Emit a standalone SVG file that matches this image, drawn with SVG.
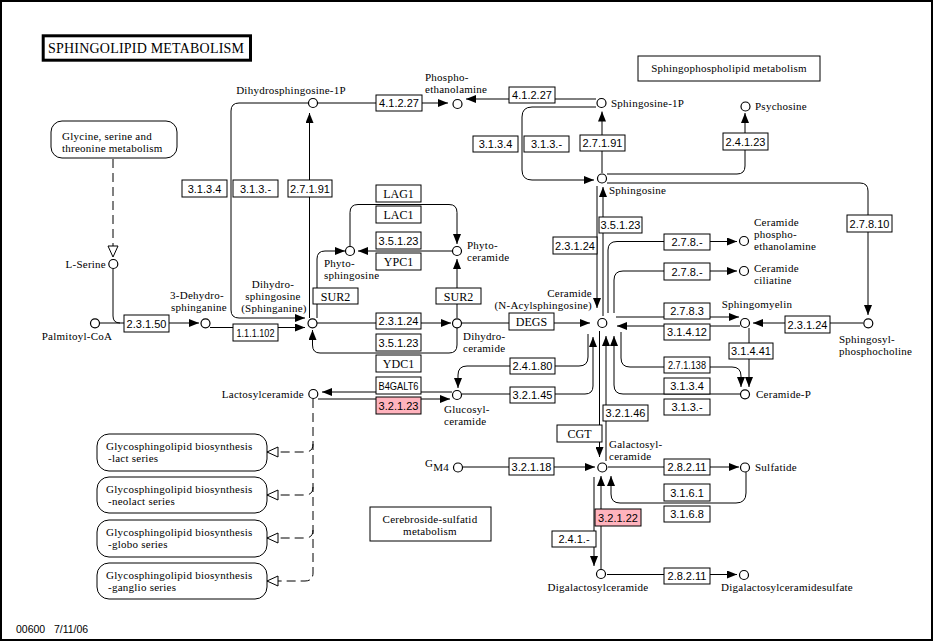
<svg xmlns="http://www.w3.org/2000/svg" width="934" height="642" viewBox="0 0 934 642">
<style>
.c{fill:#fff;stroke:#000;stroke-width:1.2}
.e rect{fill:#fff;stroke:#000;stroke-width:1}
.e.pk rect{fill:#ffb3bd}
.e text{font-family:"Liberation Sans",Arial,sans-serif;font-size:11px;text-anchor:middle}
.e.g text{font-family:"Liberation Serif","Times New Roman",serif;font-size:12px}
.t{font-family:"Liberation Serif","Times New Roman",serif;font-size:11px;letter-spacing:0.25px}
.m{text-anchor:middle}
.r{text-anchor:end}
.ln{fill:none;stroke:#000;stroke-width:1}
.a{marker-end:url(#ah)}
.d{fill:none;stroke:#000;stroke-width:1;stroke-dasharray:9,5;marker-end:url(#oh)}
.map rect{fill:#fff;stroke:#000;stroke-width:1}
</style>
<defs>
<marker id="ah" markerUnits="userSpaceOnUse" markerWidth="10" markerHeight="8" viewBox="0 0 10 8" refX="10" refY="4" orient="auto"><path d="M0,0 L10,4 L0,8 Z" fill="#000"/></marker>
<marker id="oh" markerUnits="userSpaceOnUse" markerWidth="13" markerHeight="12" viewBox="-1 -1 13 12" refX="11" refY="5" orient="auto"><path d="M0,0 L11,5 L0,10 Z" fill="#fff" stroke="#000" stroke-width="1"/></marker>
</defs>
<rect x="1" y="1" width="931" height="639" fill="#fff" stroke="#000" stroke-width="2"/>
<g id="title"><rect x="43.2" y="35.8" width="207.3" height="24.4" fill="#fff" stroke="#000" stroke-width="3"/><text x="48" y="53" font-family="'Liberation Serif','Times New Roman',serif" font-size="14" textLength="196" lengthAdjust="spacing">SPHINGOLIPID METABOLISM</text></g>

<g id="connectors">
<path class="ln a" d="M317,103 L448,103"/>
<path class="ln a" d="M596,99 L466,99"/>
<path class="ln a" d="M308,103 L239,103 Q231,103 231,111 L231,310 Q231,318 239,318 L305,318"/>
<path class="ln a" d="M309.5,318 L309.5,113"/>
<path class="d" d="M113,159 L113,257"/>
<path class="ln" d="M113,269 L113,316 Q113,323 120,323"/>
<path class="ln a" d="M100,323 L199,323"/>
<path class="ln a" d="M210,327.5 L305,327.5"/>
<path class="ln a" d="M317,323 L451,323"/>
<path class="ln a" d="M457,328 L457,345 Q457,353 449,353 L320,353 Q312.5,353 312.5,345 L312.5,330"/>
<path class="ln a" d="M457,318 L457,259"/>
<path class="ln a" d="M317,318 L317,259 Q317,251 325,251 L345,251"/>
<path class="ln a" d="M452,251 L358,251"/>
<path class="ln a" d="M350,246 L350,212.5 Q350,204.5 358,204.5 L449,204.5 Q457,204.5 457,212.5 L457,244"/>
<path class="ln a" d="M462,323 L590,323"/>
<path class="ln a" d="M597,186 L597,308"/>
<path class="ln a" d="M603,316 L603,187"/>
<path class="ln a" d="M602,173 L602,111.5"/>
<path class="ln a" d="M596,107 L532,107 Q522,107 522,117 L522,170 Q522,180 532,180 L594,180"/>
<path class="ln a" d="M607,174 L737,174 Q745,174 745,166 L745,113"/>
<path class="ln a" d="M607,183 L860,183 Q868,183 868,191 L868,315"/>
<path class="ln a" d="M608,313 L608,250 Q608,241.5 617,241.5 L737,241.5"/>
<path class="ln a" d="M614,313 L614,280 Q614,271 623,271 L737,271"/>
<path class="ln a" d="M616,317 L739,317"/>
<path class="ln a" d="M740,326 L617,326"/>
<path class="ln a" d="M863,323 L753,323"/>
<path class="ln a" d="M749,328 L749,387"/>
<path class="ln a" d="M621,332 L621,358 Q621,367 630,367 L732,367 Q741,367 741,376 L741,387"/>
<path class="ln a" d="M740,394 L623,394 Q614,394 614,385 L614,336"/>
<path class="ln a" d="M606,461 L606,336"/>
<path class="ln a" d="M462,394 L585,394 Q593,394 593,386 L593,337"/>
<path class="ln a" d="M588,334 L588,357 Q588,366 579,366 L467,366 Q458,366 458,375 L458,388"/>
<path class="ln a" d="M599.5,331 L599.5,457"/>
<path class="ln a" d="M463,467 L595,467"/>
<path class="ln a" d="M608,467 L739,467"/>
<path class="ln a" d="M746,472 L746,493 Q746,503 736,503 L620,503 Q611,503 611,494 L611,476"/>
<path class="ln a" d="M594,477 L594,566"/>
<path class="ln a" d="M601,569 L601,476"/>
<path class="ln a" d="M607,574.5 L737,574.5"/>
<path class="ln a" d="M452,392 L322,392"/>
<path class="ln a" d="M318,399 L450,399"/>
<path class="d" d="M313,399 L313,573 Q313,581 305,581 L267,581"/>
<path class="d" d="M313,444 Q313,452 305,452 L267,452"/>
<path class="d" d="M313,487 Q313,495 305,495 L267,495"/>
<path class="d" d="M313,530 Q313,538 305,538 L267,538"/>
</g>

<g id="maps" class="map">
<g id="map_gly"><rect x="51" y="121" width="126" height="37" rx="11"/><text class="t" x="62" y="140">Glycine, serine and</text><text class="t" x="62" y="152">threonine metabolism</text></g>
<g id="map_sphp"><rect x="638" y="56" width="182" height="25"/><text class="t m" x="729" y="72">Sphingophospholipid metabolism</text></g>
<g id="map_lact"><rect x="97" y="434" width="170" height="37" rx="12"/><text class="t" x="106" y="450">Glycosphingolipid biosynthesis</text><text class="t" x="108" y="462"> -lact series</text></g>
<g id="map_neolact"><rect x="97" y="477" width="170" height="36" rx="12"/><text class="t" x="106" y="493">Glycosphingolipid biosynthesis</text><text class="t" x="108" y="505"> -neolact series</text></g>
<g id="map_globo"><rect x="97" y="520" width="170" height="37" rx="12"/><text class="t" x="106" y="536">Glycosphingolipid biosynthesis</text><text class="t" x="108" y="548"> -globo series</text></g>
<g id="map_ganglio"><rect x="97" y="563" width="170" height="36" rx="12"/><text class="t" x="106" y="579">Glycosphingolipid biosynthesis</text><text class="t" x="108" y="591"> -ganglio series</text></g>
<g id="map_cer"><rect x="370" y="507" width="121" height="34"/><text class="t m" x="430" y="523">Cerebroside-sulfatid</text><text class="t m" x="430" y="535">metabolism</text></g>
</g>

<g id="enzymes">
<g class="e" id="e1"><rect x="376" y="95" width="46" height="16"/><text x="399" y="107">4.1.2.27</text></g>
<g class="e" id="e2"><rect x="509" y="87" width="46" height="16"/><text x="532" y="99">4.1.2.27</text></g>
<g class="e" id="e3"><rect x="182" y="180" width="45" height="17"/><text x="204.5" y="192.5">3.1.3.4</text></g>
<g class="e" id="e4"><rect x="233" y="180" width="45" height="17"/><text x="255.5" y="192.5">3.1.3.-</text></g>
<g class="e" id="e5"><rect x="288" y="180" width="44" height="17"/><text x="310" y="192.5">2.7.1.91</text></g>
<g class="e" id="e6"><rect x="473" y="136" width="45" height="16"/><text x="495.5" y="148">3.1.3.4</text></g>
<g class="e" id="e7"><rect x="524" y="136" width="45" height="16"/><text x="546.5" y="148">3.1.3.-</text></g>
<g class="e" id="e8"><rect x="580" y="135" width="45" height="16"/><text x="602.5" y="147">2.7.1.91</text></g>
<g class="e" id="e9"><rect x="723" y="133" width="45" height="17"/><text x="745.5" y="145.5">2.4.1.23</text></g>
<g class="e" id="e10"><rect x="847" y="215" width="45" height="17"/><text x="869.5" y="227.5">2.7.8.10</text></g>
<g class="e g" id="e11"><rect x="376" y="185" width="45" height="17"/><text x="398.5" y="197.5">LAG1</text></g>
<g class="e g" id="e12"><rect x="376" y="206" width="45" height="17"/><text x="398.5" y="218.5">LAC1</text></g>
<g class="e" id="e13"><rect x="376" y="232" width="45" height="17"/><text x="398.5" y="244.5">3.5.1.23</text></g>
<g class="e g" id="e14"><rect x="376" y="253" width="45" height="17"/><text x="398.5" y="265.5">YPC1</text></g>
<g class="e g" id="e15"><rect x="313" y="288" width="45" height="16"/><text x="335.5" y="300.5">SUR2</text></g>
<g class="e g" id="e16"><rect x="436" y="288" width="45" height="16"/><text x="458.5" y="300.5">SUR2</text></g>
<g class="e" id="e17"><rect x="376" y="313" width="45" height="16"/><text x="398.5" y="325">2.3.1.24</text></g>
<g class="e" id="e18"><rect x="376" y="334" width="45" height="17"/><text x="398.5" y="346.5">3.5.1.23</text></g>
<g class="e g" id="e19"><rect x="376" y="355" width="45" height="17"/><text x="398.5" y="367.5">YDC1</text></g>
<g class="e" id="e20"><rect x="376" y="377" width="45" height="17"/><text x="398.5" y="389.5" textLength="40" lengthAdjust="spacingAndGlyphs">B4GALT6</text></g>
<g class="e pk" id="e21"><rect x="376" y="397" width="45" height="17"/><text x="398.5" y="409.5">3.2.1.23</text></g>
<g class="e" id="e22"><rect x="124" y="315" width="45" height="17"/><text x="146.5" y="327.5">2.3.1.50</text></g>
<g class="e" id="e23"><rect x="233" y="324" width="45" height="17"/><text x="255.5" y="336.5" textLength="38" lengthAdjust="spacingAndGlyphs">1.1.1.102</text></g>
<g class="e g" id="e24"><rect x="509" y="313" width="45" height="17"/><text x="531.5" y="325.5">DEGS</text></g>
<g class="e" id="e25"><rect x="510" y="358" width="45" height="16"/><text x="532.5" y="370">2.4.1.80</text></g>
<g class="e" id="e26"><rect x="510" y="387" width="45" height="16"/><text x="532.5" y="399">3.2.1.45</text></g>
<g class="e" id="e27"><rect x="553" y="237" width="44" height="17"/><text x="575" y="249.5">2.3.1.24</text></g>
<g class="e" id="e28"><rect x="599" y="217" width="43" height="16"/><text x="620.5" y="229">3.5.1.23</text></g>
<g class="e" id="e29"><rect x="664" y="234" width="46" height="16"/><text x="687" y="246">2.7.8.-</text></g>
<g class="e" id="e30"><rect x="664" y="263" width="46" height="17"/><text x="687" y="275.5">2.7.8.-</text></g>
<g class="e" id="e31"><rect x="664" y="303" width="46" height="16"/><text x="687" y="315">2.7.8.3</text></g>
<g class="e" id="e32"><rect x="664" y="324" width="46" height="16"/><text x="687" y="336">3.1.4.12</text></g>
<g class="e" id="e33"><rect x="785" y="316" width="45" height="17"/><text x="807.5" y="328.5">2.3.1.24</text></g>
<g class="e" id="e34"><rect x="729" y="343" width="44" height="16"/><text x="751" y="355">3.1.4.41</text></g>
<g class="e" id="e35"><rect x="664" y="357" width="46" height="16"/><text x="687" y="369" textLength="38" lengthAdjust="spacingAndGlyphs">2.7.1.138</text></g>
<g class="e" id="e36"><rect x="664" y="378" width="46" height="16"/><text x="687" y="390">3.1.3.4</text></g>
<g class="e" id="e37"><rect x="664" y="399" width="46" height="16"/><text x="687" y="411">3.1.3.-</text></g>
<g class="e" id="e38"><rect x="603" y="405" width="45" height="16"/><text x="625.5" y="417">3.2.1.46</text></g>
<g class="e g" id="e39"><rect x="557" y="425" width="45" height="17"/><text x="579.5" y="437.5">CGT</text></g>
<g class="e" id="e40"><rect x="509" y="458" width="45" height="17"/><text x="531.5" y="470.5">3.2.1.18</text></g>
<g class="e" id="e41"><rect x="664" y="459" width="46" height="16"/><text x="687" y="471">2.8.2.11</text></g>
<g class="e" id="e42"><rect x="664" y="484" width="46" height="17"/><text x="687" y="496.5">3.1.6.1</text></g>
<g class="e" id="e43"><rect x="664" y="506" width="46" height="16"/><text x="687" y="518">3.1.6.8</text></g>
<g class="e pk" id="e44"><rect x="595" y="509" width="46" height="17"/><text x="618" y="521.5">3.2.1.22</text></g>
<g class="e" id="e45"><rect x="552" y="531" width="44" height="16"/><text x="574" y="543">2.4.1.-</text></g>
<g class="e" id="e46"><rect x="664" y="568" width="46" height="16"/><text x="687" y="580">2.8.2.11</text></g>
</g>

<g id="compounds">
<g id="c_dhs1p"><circle class="c" cx="313" cy="103" r="4.5"/><text class="t m" x="291" y="94">Dihydrosphingosine-1P</text></g>
<g id="c_pe"><circle class="c" cx="457.5" cy="104" r="4.5"/><text class="t" x="425" y="81">Phospho-</text><text class="t" x="425" y="93">ethanolamine</text></g>
<g id="c_s1p"><circle class="c" cx="601.5" cy="103" r="4.5"/><text class="t" x="611" y="107">Sphingosine-1P</text></g>
<g id="c_psy"><circle class="c" cx="745.5" cy="106.5" r="4.5"/><text class="t" x="755" y="110">Psychosine</text></g>
<g id="c_sph"><circle class="c" cx="602" cy="178.5" r="4.5"/><text class="t" x="609" y="194">Sphingosine</text></g>
<g id="c_ser"><circle class="c" cx="113.3" cy="264" r="4.5"/><text class="t r" x="106" y="268">L-Serine</text></g>
<g id="c_pcoa"><circle class="c" cx="95" cy="323.3" r="4.5"/><text class="t m" x="77" y="340">Palmitoyl-CoA</text></g>
<g id="c_3dh"><circle class="c" cx="205.5" cy="323.3" r="4.5"/><text class="t m" x="197" y="299">3-Dehydro-</text><text class="t m" x="199" y="311">sphinganine</text></g>
<g id="c_dhs"><circle class="c" cx="312.5" cy="323.3" r="4.5"/><text class="t m" x="273" y="288">Dihydro-</text><text class="t m" x="273" y="300">sphingosine</text><text class="t m" x="274" y="312">(Sphinganine)</text></g>
<g id="c_phs"><circle class="c" cx="350" cy="251" r="4.5"/><text class="t" x="324" y="267">Phyto-</text><text class="t" x="324" y="279">sphingosine</text></g>
<g id="c_phc"><circle class="c" cx="457" cy="251" r="4.5"/><text class="t" x="467" y="249">Phyto-</text><text class="t" x="467" y="261">ceramide</text></g>
<g id="c_dhc"><circle class="c" cx="457" cy="323.3" r="4.5"/><text class="t" x="463" y="340">Dihydro-</text><text class="t" x="463" y="352">ceramide</text></g>
<g id="c_cer"><circle class="c" cx="602.3" cy="323" r="4.5"/><text class="t r" x="592" y="297">Ceramide</text><text class="t r" x="592" y="309">(N-Acylsphingosine)</text></g>
<g id="c_cpe"><circle class="c" cx="744" cy="241" r="4.5"/><text class="t" x="754" y="226">Ceramide</text><text class="t" x="754" y="238">phospho-</text><text class="t" x="754" y="250">ethanolamine</text></g>
<g id="c_cci"><circle class="c" cx="744" cy="271" r="4.5"/><text class="t" x="754" y="272">Ceramide</text><text class="t" x="754" y="284">ciliatine</text></g>
<g id="c_sm"><circle class="c" cx="745" cy="323" r="4.5"/><text class="t m" x="757" y="308">Sphingomyelin</text></g>
<g id="c_spc"><circle class="c" cx="868.3" cy="323.3" r="4.5"/><text class="t" x="839" y="343">Sphingosyl-</text><text class="t" x="839" y="355">phosphocholine</text></g>
<g id="c_cerp"><circle class="c" cx="745" cy="394.3" r="4.5"/><text class="t" x="756" y="398">Ceramide-P</text></g>
<g id="c_lac"><circle class="c" cx="313.3" cy="394" r="4.5"/><text class="t r" x="304" y="398">Lactosylceramide</text></g>
<g id="c_glc"><circle class="c" cx="457" cy="395" r="4.5"/><text class="t" x="444" y="413">Glucosyl-</text><text class="t" x="444" y="425">ceramide</text></g>
<g id="c_gm4"><circle class="c" cx="458" cy="467.5" r="4.5"/><text class="t" x="425" y="467" font-size="10">G<tspan dy="4" font-size="11">M4</tspan></text></g>
<g id="c_gal"><circle class="c" cx="602.3" cy="467.5" r="4.5"/><text class="t" x="609" y="448">Galactosyl-</text><text class="t" x="609" y="460">ceramide</text></g>
<g id="c_sulf"><circle class="c" cx="745" cy="467.5" r="4.5"/><text class="t" x="755" y="471">Sulfatide</text></g>
<g id="c_digal"><circle class="c" cx="601" cy="574" r="4.5"/><text class="t m" x="598" y="591">Digalactosylceramide</text></g>
<g id="c_digals"><circle class="c" cx="744" cy="575" r="4.5"/><text class="t m" x="787" y="591">Digalactosylceramidesulfate</text></g>
</g>
<text x="16" y="633" font-family="'Liberation Sans',Arial,sans-serif" font-size="10.5" xml:space="preserve">00600   7/11/06</text>
</svg>
